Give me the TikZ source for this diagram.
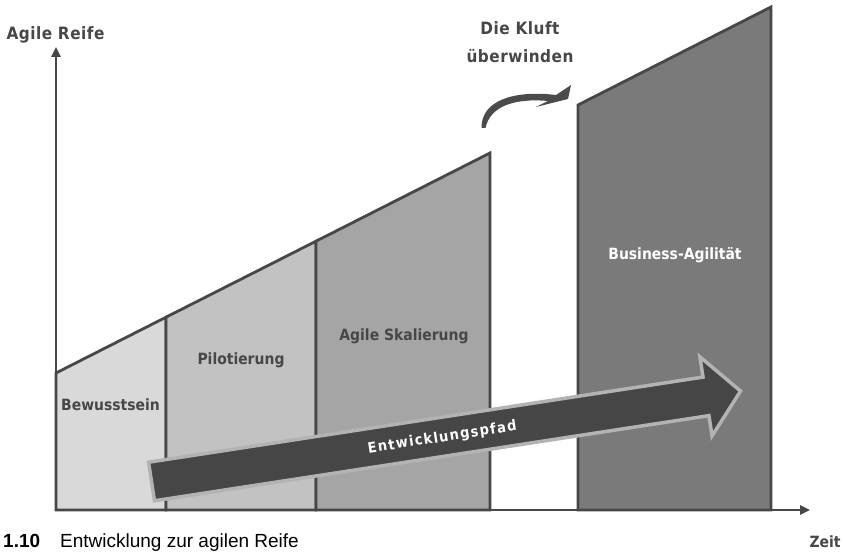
\documentclass[tikz,border=0pt]{standalone}
\usepackage{fontspec}
\setmainfont{DejaVu Sans Condensed}
\newfontfamily\capfont{Liberation Sans}
\usetikzlibrary{arrows.meta}
\definecolor{edgecol}{HTML}{474747}
\definecolor{txtcol}{HTML}{474747}
\definecolor{fillA}{HTML}{D9D9D9}
\definecolor{fillB}{HTML}{C2C2C2}
\definecolor{fillC}{HTML}{A5A5A5}
\definecolor{fillD}{HTML}{7A7A7A}
\definecolor{arrowin}{HTML}{464646}
\definecolor{arrowout}{HTML}{B3B3B3}
\definecolor{swoosh}{HTML}{4B4B4B}
\tikzset{
  phase/.style={draw=edgecol, line width=2.8pt, line join=miter},
  lab/.style={font=\bfseries\fontsize{15.5}{18}\selectfont, text=txtcol, anchor=base, inner sep=0pt},
  biglab/.style={lab, font=\bfseries\fontsize{17}{20}\selectfont\addfontfeatures{LetterSpace=3}},
  axisline/.style={draw=edgecol, line width=2.4pt, -{Triangle[length=10pt,width=9pt]}},
  bigarrow/.style={fill=arrowin, draw=arrowout, line width=3.5pt, line join=miter},
}
\begin{document}
\begin{tikzpicture}[x=1pt, y=-1pt]
\useasboundingbox (0,0) rectangle (844,553);
\clip (0,0) rectangle (844,553);
\fill[white] (0,0) rectangle (844,553);

% phases
\draw[phase, fill=fillA] (56,510) -- (56,373) -- (166,317.2) -- (166,510) -- cycle;
\draw[phase, fill=fillB] (166,510) -- (166,317.2) -- (316,241.2) -- (316,510) -- cycle;
\draw[phase, fill=fillC] (316,510) -- (316,241.2) -- (490,153) -- (490,510) -- cycle;
\draw[phase, fill=fillD] (578,510) -- (578,105) -- (771,7) -- (771,510) -- cycle;

% axes
\coordinate (O) at (56,510);
\coordinate (Ytop) at (56,47);
\coordinate (Xend) at (810,510);
\draw[axisline] (O) -- (Ytop);
\draw[axisline] (O) -- (Xend);

% labels
\node[biglab] (ylab) at (55.5,40) {Agile Reife};
\node[lab] (xlab) at (825,547) {Zeit};
\node[biglab] (kluft1) at (520,35) {Die Kluft};
\node[biglab] (kluft2) at (520,63) {überwinden};
\node[lab] (p1) at (110.5,410) {Bewusstsein};
\node[lab] (p2) at (241,365) {Pilotierung};
\node[lab] (p3) at (404,341) {Agile Skalierung};
\node[lab, text=white] (p4) at (675,260) {Business-Agilität};

% swoosh arrow
\fill[swoosh] (481.5,128) .. controls (481,100) and (515,90) .. (556,95)
  -- (571,85) -- (568,99) -- (536,107) -- (548,101)
  .. controls (515,98) and (490,106) .. (485.5,128) -- cycle;

% development path arrow
\begin{scope}[shift={(151.5,481.5)}, rotate=8.73]
  \draw[bigarrow] (0,-19.5) -- (561,-19.5) -- (561,-40) -- (596,0) -- (561,40) -- (561,19.5) -- (0,19.5) -- cycle;
  \node[transform shape, text=white, inner sep=0pt,
        font=\bfseries\fontsize{14.5}{16}\selectfont\addfontfeatures{LetterSpace=9}] (path) at (294,1) {Entwicklungspfad};
\end{scope}

% caption
\node[anchor=base west, inner sep=0pt, font=\capfont\fontsize{19}{22}\selectfont, text=black] (cap) at (3,547)
  {\textbf{1.10}\hspace{20pt}Entwicklung zur agilen Reife};
\end{tikzpicture}
\end{document}
